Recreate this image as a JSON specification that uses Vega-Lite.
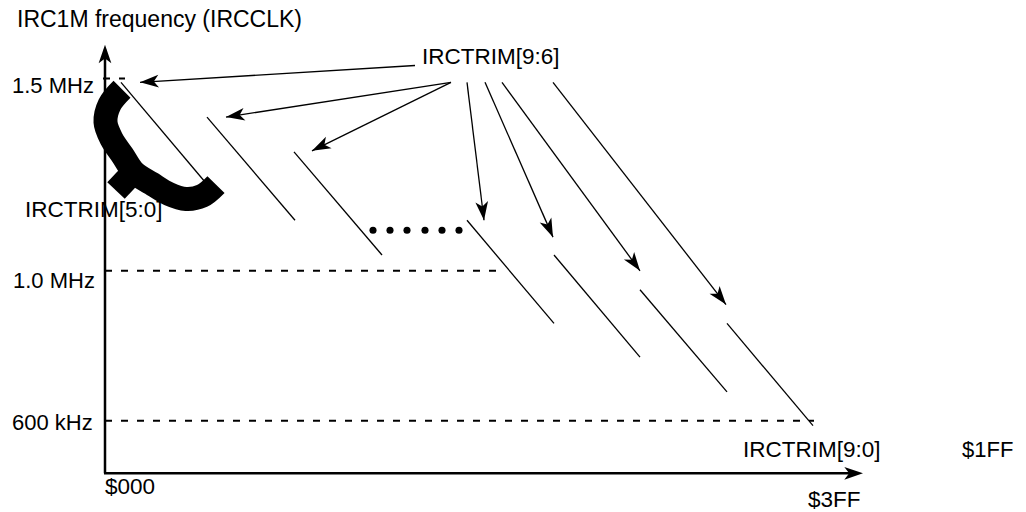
{
  "$schema": "https://vega.github.io/schema/vega-lite/v6.json",
  "width": 1026,
  "height": 512,
  "padding": 0,
  "autosize": {"type": "fit", "contains": "padding"},
  "background": "white",
  "view": {"stroke": null},
  "config": {"text": {"font": "Liberation Sans", "fontSize": 22.5, "align": "left", "baseline": "alphabetic", "color": "#000000"}},
  "datasets": {
    "segs": [
      {"kind": "dash", "x": 103, "y": 79, "x2": 125, "y2": 79},
      {"kind": "dash", "x": 105, "y": 273, "x2": 503, "y2": 273},
      {"kind": "dash", "x": 105, "y": 424, "x2": 814, "y2": 424},
      {"kind": "diag", "x": 121, "y": 83, "x2": 208, "y2": 187},
      {"kind": "diag", "x": 207, "y": 118, "x2": 295, "y2": 222},
      {"kind": "diag", "x": 294, "y": 153, "x2": 382, "y2": 257},
      {"kind": "diag", "x": 467, "y": 222, "x2": 554, "y2": 326},
      {"kind": "diag", "x": 554, "y": 257, "x2": 640, "y2": 360},
      {"kind": "diag", "x": 640, "y": 292, "x2": 727, "y2": 395},
      {"kind": "diag", "x": 727, "y": 326, "x2": 813, "y2": 429},
      {"kind": "shaft", "x": 415, "y": 66, "x2": 140, "y2": 83},
      {"kind": "shaft", "x": 451, "y": 83, "x2": 226, "y2": 118},
      {"kind": "shaft", "x": 451, "y": 83, "x2": 312, "y2": 152},
      {"kind": "shaft", "x": 467, "y": 83, "x2": 484, "y2": 222},
      {"kind": "shaft", "x": 485, "y": 83, "x2": 553, "y2": 239},
      {"kind": "shaft", "x": 502, "y": 83, "x2": 640, "y2": 273},
      {"kind": "shaft", "x": 553, "y": 83, "x2": 726, "y2": 307},
      {"kind": "axis", "x": 105, "y": 50, "x2": 105, "y2": 477},
      {"kind": "axis", "x": 104, "y": 477, "x2": 858, "y2": 477}
    ],
    "heads": [
      {"x": 140, "y": 83, "a": -93.5},
      {"x": 226, "y": 118, "a": -98.8},
      {"x": 312, "y": 152, "a": -116.4},
      {"x": 484, "y": 222, "a": 173.0},
      {"x": 553, "y": 239, "a": 156.4},
      {"x": 640, "y": 273, "a": 144.0},
      {"x": 726, "y": 307, "a": 142.3},
      {"x": 105, "y": 45, "a": 0},
      {"x": 863, "y": 477, "a": 90}
    ],
    "dots": [
      {"x": 373, "y": 232}, {"x": 390, "y": 232}, {"x": 407, "y": 232},
      {"x": 425, "y": 232}, {"x": 442, "y": 232}, {"x": 459, "y": 232}
    ],
    "brace": [
      {"part": "arm", "o": 0, "x": 122.0, "y": 90.0},
      {"part": "arm", "o": 1, "x": 109.5, "y": 105.5},
      {"part": "arm", "o": 2, "x": 105.5, "y": 123.0},
      {"part": "arm", "o": 3, "x": 111.5, "y": 140.0},
      {"part": "arm", "o": 4, "x": 122.5, "y": 156.5},
      {"part": "arm", "o": 5, "x": 134.0, "y": 173.5},
      {"part": "arm", "o": 6, "x": 151.5, "y": 185.0},
      {"part": "arm", "o": 7, "x": 169.0, "y": 195.5},
      {"part": "arm", "o": 8, "x": 186.0, "y": 200.5},
      {"part": "arm", "o": 9, "x": 202.0, "y": 197.5},
      {"part": "arm", "o": 10, "x": 216.0, "y": 186.0},
      {"part": "tip", "o": 0, "x": 138.0, "y": 168.5},
      {"part": "tip", "o": 1, "x": 116.0, "y": 192.0}
    ],
    "labels": [
      {"text": "IRC1M frequency (IRCCLK)", "x": 17, "y": 27, "fs": 23},
      {"text": "1.5 MHz", "x": 12, "y": 94, "fs": 22},
      {"text": "IRCTRIM[9:6]", "x": 422, "y": 65, "fs": 22.5},
      {"text": "IRCTRIM[5:0]", "x": 25, "y": 219, "fs": 22.5},
      {"text": "1.0 MHz", "x": 13, "y": 290, "fs": 22},
      {"text": "600 kHz", "x": 12, "y": 433, "fs": 22},
      {"text": "IRCTRIM[9:0]", "x": 743, "y": 461, "fs": 22.5},
      {"text": "$1FF", "x": 962, "y": 461, "fs": 22},
      {"text": "$000", "x": 105, "y": 498, "fs": 22.5},
      {"text": "$3FF", "x": 808, "y": 511, "fs": 22.5}
    ]
  },
  "encoding": {
    "x": {"field": "x", "type": "quantitative", "scale": {"domain": [0, 1026], "nice": false, "zero": false}, "axis": null},
    "y": {"field": "y", "type": "quantitative", "scale": {"domain": [0, 512], "reverse": true, "nice": false, "zero": false}, "axis": null}
  },
  "layer": [
    {
      "data": {"name": "labels"},
      "mark": {"type": "text"},
      "encoding": {"text": {"field": "text"}, "size": {"field": "fs", "type": "quantitative", "scale": null}}
    },
    {
      "data": {"name": "segs"},
      "transform": [{"filter": "datum.kind === 'dash'"}],
      "mark": {"type": "rule", "color": "#000000", "strokeWidth": 2, "strokeDash": [7, 9]},
      "encoding": {"x2": {"field": "x2"}, "y2": {"field": "y2"}}
    },
    {
      "data": {"name": "segs"},
      "transform": [{"filter": "datum.kind === 'diag' || datum.kind === 'shaft'"}],
      "mark": {"type": "rule", "color": "#000000", "strokeWidth": 1.3},
      "encoding": {"x2": {"field": "x2"}, "y2": {"field": "y2"}}
    },
    {
      "data": {"name": "segs"},
      "transform": [{"filter": "datum.kind === 'axis'"}],
      "mark": {"type": "rule", "color": "#000000", "strokeWidth": 2.5},
      "encoding": {"x2": {"field": "x2"}, "y2": {"field": "y2"}}
    },
    {
      "data": {"name": "heads"},
      "mark": {"type": "point", "shape": "M0,0 L0.34,1 L0,0.74 L-0.34,1 Z", "filled": true, "color": "#000000", "opacity": 1, "size": 1400},
      "encoding": {"angle": {"field": "a", "type": "quantitative", "scale": null}}
    },
    {
      "data": {"name": "dots"},
      "mark": {"type": "point", "shape": "circle", "filled": true, "color": "#000000", "opacity": 1, "size": 50}
    },
    {
      "data": {"name": "brace"},
      "mark": {"type": "line", "color": "#000000", "strokeWidth": 24, "strokeCap": "butt", "strokeJoin": "round", "interpolate": "catmull-rom"},
      "encoding": {"detail": {"field": "part"}, "order": {"field": "o", "type": "quantitative"}}
    }
  ]
}
